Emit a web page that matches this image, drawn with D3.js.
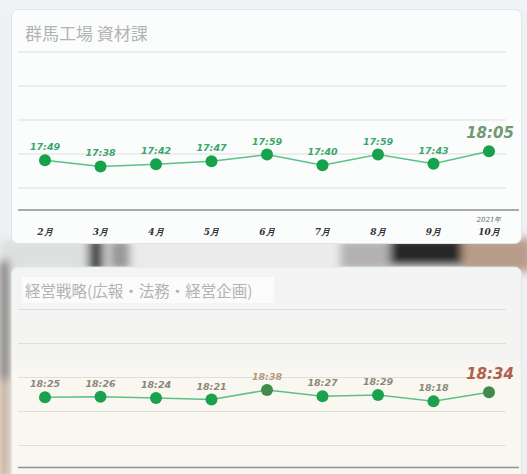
<!DOCTYPE html>
<html>
<head>
<meta charset="utf-8">
<script src="https://cdn.jsdelivr.net/npm/d3@7"></script>
<style>
  html, body { margin: 0; padding: 0; background: #eef1f3; overflow: hidden; }
  svg { display: block; }
</style>
</head>
<body>
<svg id="main-svg"></svg>
<script>
let width = 527;
let height = 474;

// data
let months = ['2月', '3月', '4月', '5月', '6月', '7月', '8月', '9月', '10月'];
let yearLabel = '2021年';
let titles = ['群馬工場 資材課', '経営戦略(広報・法務・経営企画)'];
let timesA = ['17:49', '17:38', '17:42', '17:47', '17:59', '17:40', '17:59', '17:43', '18:05'];
let timesB = ['18:25', '18:26', '18:24', '18:21', '18:38', '18:27', '18:29', '18:18', '18:34'];
let gridTimes = ['17:00', '18:00', '19:00', '20:00', '21:00'];

function toMin(t) {
  let [h, m] = t.split(':').map(Number);
  return h * 60 + m;
}

let svg = d3.select('#main-svg')
  .attr('width', width)
  .attr('height', height);

let defs = svg.append('defs');
defs.append('filter').attr('id', 'blur')
  .attr('x', '-20%').attr('y', '-50%').attr('width', '140%').attr('height', '200%')
  .append('feGaussianBlur').attr('stdDeviation', 4);

let grad = defs.append('linearGradient').attr('id', 'card2bg')
  .attr('x1', 0).attr('y1', 0).attr('x2', 0).attr('y2', 1);
grad.append('stop').attr('offset', '0%').attr('stop-color', '#f3f4f4');
grad.append('stop').attr('offset', '38%').attr('stop-color', '#f4f4f2');
grad.append('stop').attr('offset', '46%').attr('stop-color', '#faf7f0');
grad.append('stop').attr('offset', '100%').attr('stop-color', '#faf7f1');

// blurred photo behind the cards
let bg = svg.append('g').attr('filter', 'url(#blur)');
let blobs = [
  [0, 0, 527, 14, '#f1f4f6'],
  [0, 240, 527, 30, '#dedfdf'],
  [88, 238, 16, 34, '#4a4a48'],
  [110, 240, 20, 30, '#9a9896'],
  [130, 240, 220, 30, '#ebebea'],
  [340, 240, 50, 30, '#b4b2b0'],
  [390, 238, 72, 28, '#272727'],
  [462, 238, 70, 34, '#b89c8a'],
  [0, 260, 9, 220, '#7a7470'],
  [0, 380, 9, 100, '#c2a88e']
];
bg.selectAll('rect').data(blobs).join('rect')
  .attr('x', d => d[0]).attr('y', d => d[1])
  .attr('width', d => d[2]).attr('height', d => d[3])
  .attr('fill', d => d[4]);

let x = d3.scalePoint().domain(months).range([45, 489]);

let panels = [
  {
    title: titles[0], titleSize: 17, times: timesA, offset: 0, fill: '#fbfcfc', showMonths: true,
    lastColor: '#6f9a74',
    dotColor: d => '#16a24c', labelFill: d => '#3aa76e'
  },
  {
    title: titles[1], titleSize: 15.5, times: timesB, offset: 257.5, fill: 'url(#card2bg)', showMonths: false,
    lastColor: '#b0604c',
    dotColor: (d, i) => (d === '18:38' || i === 8) ? '#3f8a4c' : '#1aa14e',
    labelFill: d => d === '18:38' ? '#b29a80' : '#8a8878'
  }
];

panels.forEach(p => drawPanel(p));

function drawPanel(p) {
  let off = p.offset;
  let g = svg.append('g');
  let y = d3.scaleLinear()
    .domain([toMin(gridTimes[0]), toMin(gridTimes[gridTimes.length - 1])])
    .range([188 + off, 52 + off]);

  // card
  g.append('rect')
    .attr('x', 11.5).attr('y', 9.5 + off)
    .attr('width', 510).attr('height', 234)
    .attr('rx', 7)
    .attr('fill', p.fill)
    .attr('stroke', '#e1e5e7');

  if (off > 0) {
    g.append('rect')
      .attr('x', 22).attr('y', 277)
      .attr('width', 252).attr('height', 26)
      .attr('fill', '#fbfbfb');
  }

  g.append('text')
    .attr('x', 25).attr('y', 39.5 + off)
    .style('font-family', '"Noto Sans CJK JP", "Noto Sans", sans-serif')
    .style('font-size', p.titleSize + 'px')
    .style('fill', '#b3b3b3')
    .text(p.title);

  // gridlines
  g.selectAll('line.grid').data(gridTimes).join('line')
    .attr('class', 'grid')
    .attr('x1', 18).attr('x2', 506)
    .attr('y1', d => y(toMin(d))).attr('y2', d => y(toMin(d)))
    .style('stroke', '#dcdfe0')
    .style('stroke-width', 1);

  // axis baseline
  let base = y.range()[0] + 22;
  g.append('line')
    .attr('x1', 18).attr('x2', 519)
    .attr('y1', base).attr('y2', base)
    .style('stroke', '#8f9192')
    .style('stroke-width', 1.6);

  // month labels (the lower card's are below the window)
  if (p.showMonths) {
    g.selectAll('text.month').data(months).join('text')
      .attr('class', 'month')
      .attr('x', d => x(d))
      .attr('y', base + 25)
      .attr('text-anchor', 'middle')
      .style('font-family', '"DejaVu Serif", serif')
      .style('font-size', '9px')
      .style('font-weight', 'bold')
      .style('font-style', 'italic')
      .style('fill', '#333')
      .text(d => d);
  }

  g.append('text')
    .attr('x', x(months[months.length - 1]))
    .attr('y', base + 12)
    .attr('text-anchor', 'middle')
    .style('font-family', '"DejaVu Serif", serif')
    .style('font-size', '7px')
    .style('font-style', 'italic')
    .style('fill', p.showMonths ? '#666' : '#bbb')
    .text(yearLabel);

  // line
  let line = d3.line()
    .x((d, i) => x(months[i]))
    .y(d => y(toMin(d)));
  g.append('path').datum(p.times)
    .attr('d', line)
    .style('fill', 'none')
    .style('stroke', '#5cc088')
    .style('stroke-width', 1.5);

  g.selectAll('circle').data(p.times).join('circle')
    .attr('cx', (d, i) => x(months[i]))
    .attr('cy', d => y(toMin(d)))
    .attr('r', 6)
    .style('fill', (d, i) => p.dotColor(d, i));

  let last = p.times.length - 1;
  g.selectAll('text.val').data(p.times).join('text')
    .attr('class', 'val')
    .attr('x', (d, i) => x(months[i]) + (i === last ? 1 : 0))
    .attr('y', (d, i) => y(toMin(d)) - (i === last ? 13 : 10))
    .attr('text-anchor', 'middle')
    .style('font-family', '"DejaVu Sans", Verdana, sans-serif')
    .style('font-weight', 'bold')
    .style('font-style', 'italic')
    .style('font-size', (d, i) => i === last ? '15px' : '9.5px')
    .style('fill', (d, i) => i === last ? p.lastColor : p.labelFill(d, i))
    .text(d => d);
}
</script>
</body>
</html>
